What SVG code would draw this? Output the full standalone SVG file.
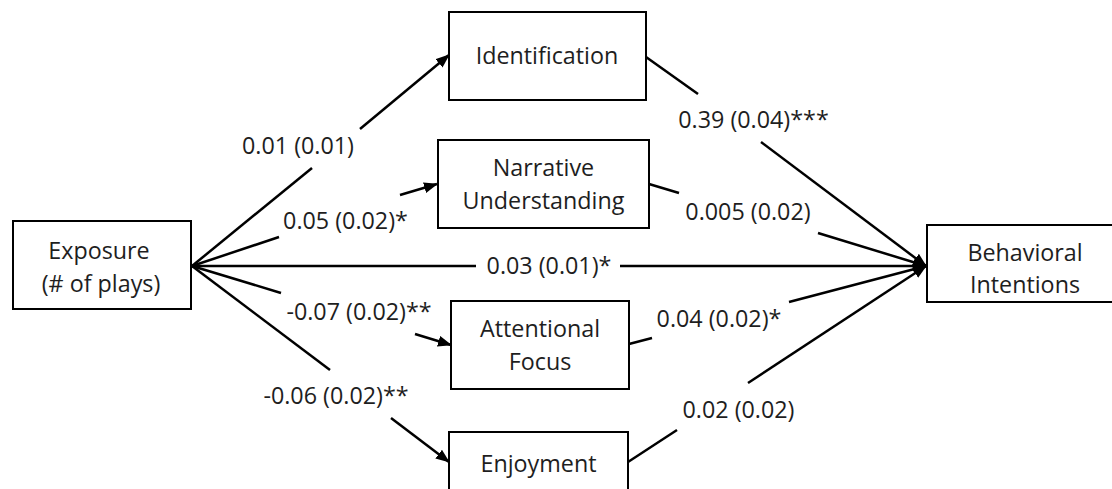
<svg xmlns="http://www.w3.org/2000/svg" width="1112" height="489" viewBox="0 0 1112 489">
<defs>
<style>
.box{fill:#fff;stroke:#000;stroke-width:2}
.t{font-family:"Open Sans","Liberation Sans",sans-serif;font-size:23.3px;fill:#1e1e1e;text-anchor:middle}
.c{stroke:#000;stroke-width:2.5;fill:none}
.a{marker-end:url(#ah)}
</style>
<marker id="ah" viewBox="0 0 14 11" refX="13" refY="5.5" markerWidth="14" markerHeight="11" markerUnits="userSpaceOnUse" orient="auto">
<path d="M0,0 L14,5.5 L0,11 z" fill="#000"/>
</marker>
</defs>
<rect width="1112" height="489" fill="#fff"/>
<g id="connectors">
<line class="c" x1="192" y1="266" x2="312" y2="168"/>
<line class="c a" x1="360" y1="129" x2="449" y2="55"/>
<line class="c" x1="192" y1="266" x2="279" y2="237"/>
<line class="c a" x1="400" y1="195" x2="437" y2="184"/>
<line class="c" x1="192" y1="266" x2="476" y2="266"/>
<line class="c a" x1="620" y1="266" x2="926" y2="266"/>
<line class="c" x1="192" y1="266" x2="281" y2="293"/>
<line class="c a" x1="415" y1="334" x2="451" y2="345"/>
<line class="c" x1="192" y1="266" x2="330" y2="370"/>
<line class="c a" x1="391" y1="418" x2="449" y2="462"/>
<line class="c" x1="646" y1="57" x2="698" y2="94"/>
<line class="c a" x1="761" y1="142" x2="926" y2="266"/>
<line class="c" x1="649" y1="184" x2="679" y2="193"/>
<line class="c a" x1="818" y1="233" x2="926" y2="266"/>
<line class="c" x1="629" y1="344" x2="652" y2="338"/>
<line class="c a" x1="789" y1="302" x2="926" y2="266"/>
<line class="c" x1="628" y1="462" x2="677" y2="430"/>
<line class="c a" x1="748" y1="383" x2="926" y2="266"/>
<text class="t" x="298" y="154">0.01 (0.01)</text>
<text class="t" x="345.5" y="229">0.05 (0.02)*</text>
<text class="t" x="549" y="274">0.03 (0.01)*</text>
<text class="t" x="359" y="320">-0.07 (0.02)**</text>
<text class="t" x="336" y="404">-0.06 (0.02)**</text>
<text class="t" x="753.5" y="128">0.39 (0.04)***</text>
<text class="t" x="748" y="220">0.005 (0.02)</text>
<text class="t" x="719" y="326.5">0.04 (0.02)*</text>
<text class="t" x="738.5" y="418">0.02 (0.02)</text>
</g>
<g id="exposure">
<rect class="box" x="13" y="221" width="178" height="88"/>
<text class="t" x="99" y="259">Exposure</text>
<text class="t" x="101" y="292">(# of plays)</text>
</g>
<g id="identification">
<rect class="box" x="449" y="12" width="197" height="88"/>
<text class="t" x="547" y="64">Identification</text>
</g>
<g id="narrative">
<rect class="box" x="438" y="140" width="211" height="88"/>
<text class="t" x="543.5" y="176">Narrative</text>
<text class="t" x="543.5" y="209">Understanding</text>
</g>
<g id="attentional">
<rect class="box" x="451" y="301" width="178" height="88"/>
<text class="t" x="540" y="337">Attentional</text>
<text class="t" x="540" y="370">Focus</text>
</g>
<g id="enjoyment">
<rect class="box" x="449" y="432" width="179" height="88"/>
<text class="t" x="538.5" y="471.5">Enjoyment</text>
</g>
<g id="behavioral">
<rect class="box" x="927" y="225" width="196" height="77"/>
<text class="t" x="1025" y="261">Behavioral</text>
<text class="t" x="1025" y="293">Intentions</text>
</g>
</svg>
